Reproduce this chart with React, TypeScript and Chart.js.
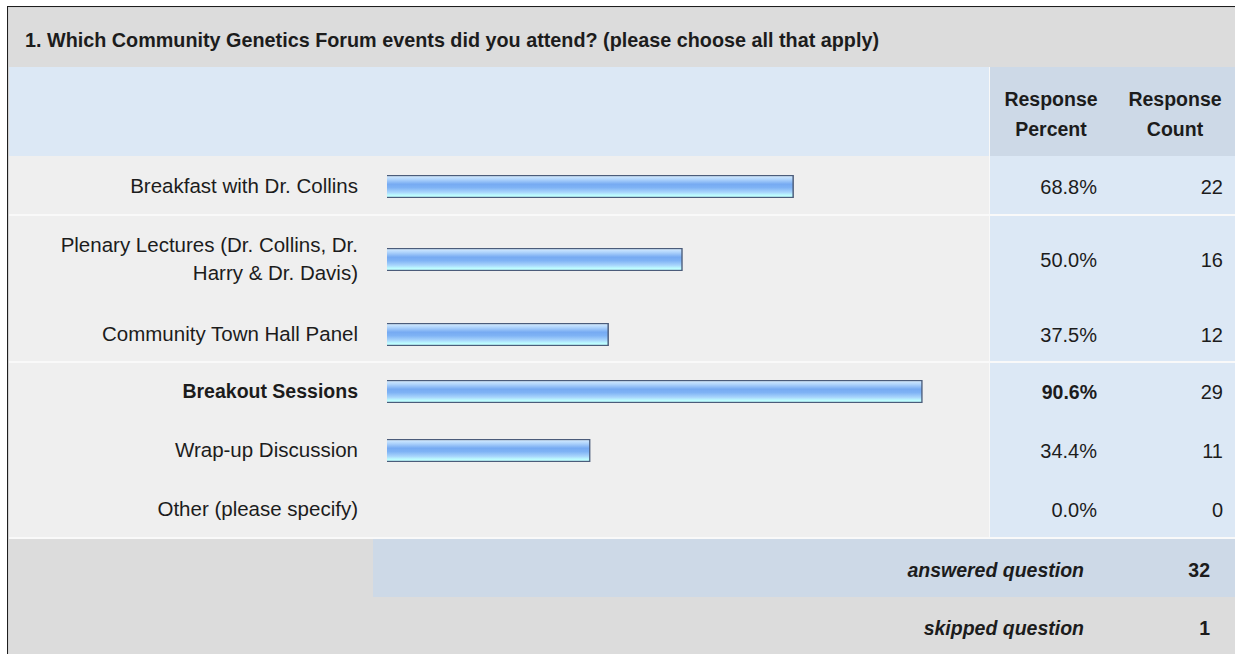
import React, { useEffect, useRef } from "react";
import { Chart, registerables } from "chart.js";

Chart.register(...registerables);

// ---------- data ----------
const questionTitle =
  "1. Which Community Genetics Forum events did you attend? (please choose all that apply)";
const categories = [
  ["Breakfast with Dr. Collins"],
  ["Plenary Lectures (Dr. Collins, Dr.", "Harry & Dr. Davis)"],
  ["Community Town Hall Panel"],
  ["Breakout Sessions"],
  ["Wrap-up Discussion"],
  ["Other (please specify)"],
];
const responsePercent = [68.8, 50.0, 37.5, 90.6, 34.4, 0.0];
const responseCount = [22, 16, 12, 29, 11, 0];
const boldRowIndex = 3;
const headerPercent = ["Response", "Percent"];
const headerCount = ["Response", "Count"];
const summaryLabels = ["answered question", "skipped question"];
const summaryValues = [32, 1];
const axisMin = 0;
const axisMax = 100;

// ---------- layout ----------
const FONT = '"Liberation Sans", Arial, Helvetica, sans-serif';
const ROW_CENTERS = [186, 259, 334, 391, 450, 509];
const BAR_LEFT = 387;
const BAR_WIDTH = 591;
const BAR_HEIGHT = 23;

function BarCell({ value, label, center }: { value: number; label: string; center: number }) {
  const ref = useRef<HTMLCanvasElement>(null);
  useEffect(() => {
    const canvas = ref.current;
    if (!canvas) return;
    const chart = new Chart(canvas, {
      type: "bar",
      data: {
        labels: [label],
        datasets: [
          {
            data: [value],
            backgroundColor: (ctx: any) => {
              const c = ctx.chart;
              const a = c.chartArea;
              if (!a) return "#8dbdf6";
              const g = c.ctx.createLinearGradient(0, a.top, 0, a.bottom);
              g.addColorStop(0, "#dcefff");
              g.addColorStop(0.18, "#b2d6fc");
              g.addColorStop(0.4, "#76aaf2");
              g.addColorStop(0.55, "#7fb3f5");
              g.addColorStop(0.75, "#a8d5fc");
              g.addColorStop(0.88, "#bdfcff");
              g.addColorStop(1, "#b6fdff");
              return g;
            },
            borderColor: "#4b5c7a",
            borderWidth: 1.5,
            borderSkipped: "start",
            barPercentage: 1,
            categoryPercentage: 1,
          } as any,
        ],
      },
      options: {
        indexAxis: "y",
        animation: false,
        responsive: false,
        maintainAspectRatio: false,
        events: [],
        layout: { padding: 0 },
        plugins: { legend: { display: false }, tooltip: { enabled: false } },
        scales: {
          x: { display: false, min: axisMin, max: axisMax },
          y: { display: false },
        },
      },
    });
    return () => chart.destroy();
  }, [value, label]);
  return (
    <canvas
      ref={ref}
      width={BAR_WIDTH}
      height={BAR_HEIGHT}
      style={{
        position: "absolute",
        left: BAR_LEFT,
        top: Math.round(center - BAR_HEIGHT / 2),
        width: BAR_WIDTH,
        height: BAR_HEIGHT,
        display: "block",
      }}
    />
  );
}

function Txt({
  center,
  left,
  right,
  width,
  align,
  size = 20,
  weight = 400,
  italic = false,
  children,
}: any) {
  const h = 30;
  const style: React.CSSProperties = {
    position: "absolute",
    top: center - h / 2,
    height: h,
    lineHeight: h + "px",
    fontFamily: FONT,
    fontSize: size,
    fontWeight: weight,
    fontStyle: italic ? "italic" : "normal",
    color: "#1c1c1c",
    whiteSpace: "nowrap",
    textAlign: align || (right !== undefined ? "right" : "left"),
  };
  if (left !== undefined) style.left = left;
  if (right !== undefined) style.right = 1235 - right;
  if (width !== undefined) style.width = width;
  return <div style={style}>{children}</div>;
}

function Rect({ x, y, w, h, c }: any) {
  return <div style={{ position: "absolute", left: x, top: y, width: w, height: h, background: c }} />;
}

export default function App() {
  return (
    <div
      style={{
        position: "absolute",
        left: 0,
        top: 0,
        width: 1235,
        height: 654,
        overflow: "hidden",
        background: "#ffffff",
      }}
    >
      {/* frame */}
      <Rect x={7} y={6} w={1240} h={660} c="#1e1e1e" />
      <Rect x={8} y={7} w={1240} h={660} c="#d4d4d4" />
      {/* title row */}
      <Rect x={9} y={8} w={1240} h={59} c="#dcdcdc" />
      {/* header row */}
      <Rect x={9} y={67} w={980} h={89} c="#dce8f5" />
      <Rect x={990} y={67} w={260} h={89} c="#cdd9e7" />
      {/* data rows */}
      <Rect x={9} y={156} w={980} h={382} c="#efefef" />
      <Rect x={990} y={156} w={260} h={382} c="#dce8f5" />
      <Rect x={989} y={67} w={1} h={471} c="#f8f8f8" />
      <Rect x={9} y={214} w={1240} h={2} c="#f9f9f9" />
      <Rect x={9} y={361} w={1240} h={2} c="#f9f9f9" />
      <Rect x={9} y={537} w={1240} h={2} c="#f9f9f9" />
      {/* summary rows */}
      <Rect x={9} y={539} w={364} h={58} c="#dcdcdc" />
      <Rect x={373} y={539} w={880} h={58} c="#cdd9e7" />
      <Rect x={9} y={597} w={1240} h={70} c="#dcdcdc" />

      <Txt center={40} left={25} size={19.8} weight={700}>
        {questionTitle}
      </Txt>

      <Txt center={99} left={990} width={122} align="center" size={19.5} weight={700}>
        {headerPercent[0]}
      </Txt>
      <Txt center={129} left={990} width={122} align="center" size={19.5} weight={700}>
        {headerPercent[1]}
      </Txt>
      <Txt center={99} left={1115} width={120} align="center" size={19.5} weight={700}>
        {headerCount[0]}
      </Txt>
      <Txt center={129} left={1115} width={120} align="center" size={19.5} weight={700}>
        {headerCount[1]}
      </Txt>

      {categories.map((lines, i) => {
        const c = ROW_CENTERS[i];
        const bold = i === boldRowIndex;
        const lineGap = 28;
        const first = c - ((lines.length - 1) * lineGap) / 2;
        return (
          <React.Fragment key={i}>
            {lines.map((ln, j) => (
              <Txt
                key={j}
                center={first + j * lineGap}
                right={358}
                size={bold ? 19.5 : 20.5}
                weight={bold ? 700 : 400}
              >
                {ln}
              </Txt>
            ))}
            <BarCell value={responsePercent[i]} label={lines.join(" ")} center={c} />
            <Txt center={c + 1} right={1097} size={bold ? 19.5 : 20} weight={bold ? 700 : 400}>
              {responsePercent[i].toFixed(1) + "%"}
            </Txt>
            <Txt center={c + 1} right={1223} size={20}>
              {String(responseCount[i])}
            </Txt>
          </React.Fragment>
        );
      })}

      {summaryLabels.map((lab, i) => (
        <React.Fragment key={lab}>
          <Txt center={570 + i * 58} right={1084} size={19.5} weight={700} italic>
            {lab}
          </Txt>
          <Txt center={570 + i * 58} right={1210} size={19.5} weight={700}>
            {String(summaryValues[i])}
          </Txt>
        </React.Fragment>
      ))}
    </div>
  );
}
